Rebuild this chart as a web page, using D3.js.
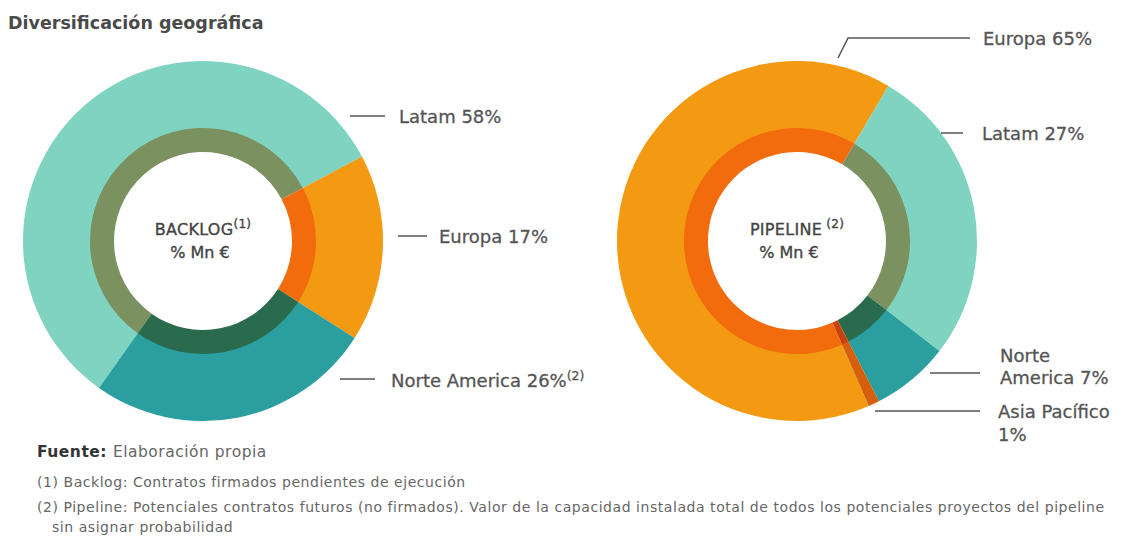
<!DOCTYPE html>
<html>
<head>
<meta charset="utf-8">
<script src="https://cdn.jsdelivr.net/npm/d3@7"></script>
<style>
  body { margin: 0; background: #fff; }
  svg text { font-family: "DejaVu Sans", sans-serif; }
</style>
</head>
<body>
<svg width="1125" height="540"></svg>
<script>
// data
var backlogRegions = ["Latam", "Europa", "Norte America"];
var backlogValues = [58, 17, 26];
var pipelineRegions = ["Europa", "Latam", "Norte America", "Asia Pacífico"];
var pipelineValues = [65, 27, 7, 1];

var outerColors = {
    "Latam": "#7fd4c1",
    "Europa": "#f39a12",
    "Norte America": "#2b9ea0",
    "Asia Pacífico": "#d65f0d"
};
var innerColors = {
    "Latam": "#7b9160",
    "Europa": "#f26b0c",
    "Norte America": "#2a6b4e",
    "Asia Pacífico": "#c8430a"
};

var svg = d3.select("svg");
var deg = Math.PI / 180;

svg.append("text")
    .attr("x", 8)
    .attr("y", 29)
    .attr("font-size", 17.5)
    .attr("font-weight", "bold")
    .attr("fill", "#4a4a4a")
    .text("Diversificación geográfica");

function drawDonut(cx, cy, regions, values, start) {
    var pie = d3.pie().sort(null).startAngle(start).endAngle(start + 2 * Math.PI);
    var arcs = pie(values);
    var g = svg.append("g").attr("transform", "translate(" + cx + "," + cy + ")");

    var outer = d3.arc().innerRadius(112).outerRadius(180);
    var inner = d3.arc().innerRadius(89).outerRadius(113);

    g.selectAll("path.outer")
        .data(arcs)
        .enter().append("path")
        .attr("class", "outer")
        .attr("d", outer)
        .attr("fill", function (d, i) {
            return outerColors[regions[i]];
        });

    g.selectAll("path.inner")
        .data(arcs)
        .enter().append("path")
        .attr("class", "inner")
        .attr("d", inner)
        .attr("fill", function (d, i) {
            return innerColors[regions[i]];
        });
    return g;
}

var left = drawDonut(203, 241, backlogRegions, backlogValues, -144.7 * deg);
var right = drawDonut(797, 241, pipelineRegions, pipelineValues, -203.5 * deg);

function centerLabel(g, title, note, dx2) {
    var t = g.append("text")
        .attr("text-anchor", "middle")
        .attr("y", -6)
        .attr("font-size", 16)
        .attr("letter-spacing", 0.3)
        .attr("fill", "#444")
        .attr("stroke", "#444")
        .attr("stroke-width", 0.35);
    t.append("tspan").text(title);
    t.append("tspan").attr("dy", -7).attr("font-size", 12).text(note);
    g.append("text")
        .attr("text-anchor", "middle")
        .attr("x", dx2)
        .attr("y", 17)
        .attr("font-size", 16)
        .attr("fill", "#444")
        .attr("stroke", "#444")
        .attr("stroke-width", 0.35)
        .text("% Mn €");
}
centerLabel(left, "BACKLOG", "(1)", -3);
centerLabel(right, "PIPELINE", " (2)", -8);

// leader lines and labels
var labelColor = "#555";
var callouts = [
    {pts: [[350, 116], [385, 116]], x: 399, lines: [["Latam 58%", 123]]},
    {pts: [[398, 236], [427, 236]], x: 439, lines: [["Europa 17%", 243]]},
    {pts: [[340, 379], [375, 379]], x: 391, lines: [["Norte America 26%", 387]], sup: "(2)"},
    {pts: [[838, 58], [848, 38], [970, 38]], x: 983, lines: [["Europa 65%", 45]]},
    {pts: [[941, 133], [963, 133]], x: 982, lines: [["Latam 27%", 140]]},
    {pts: [[930, 373], [980, 373]], x: 1000, lines: [["Norte", 362], ["America 7%", 384]]},
    {pts: [[875, 411], [980, 411]], x: 998, lines: [["Asia Pacífico", 418], ["1%", 441]]}
];

callouts.forEach(function (c) {
    svg.append("path")
        .attr("d", d3.line()(c.pts))
        .attr("fill", "none")
        .attr("stroke", "#555")
        .attr("stroke-width", 1.5);
    c.lines.forEach(function (l, i) {
        var t = svg.append("text")
            .attr("x", c.x)
            .attr("y", l[1])
            .attr("font-size", 18)
            .attr("fill", labelColor)
            .attr("stroke", labelColor)
            .attr("stroke-width", 0.3);
        t.append("tspan").text(l[0]);
        if (c.sup && i === c.lines.length - 1) {
            t.append("tspan").attr("dy", -7).attr("font-size", 12.5).text(c.sup);
        }
    });
});

// footnotes
var fuente = svg.append("text")
    .attr("x", 37)
    .attr("y", 457)
    .attr("font-size", 15.5)
    .attr("letter-spacing", 0.5)
    .attr("fill", "#666");
fuente.append("tspan").attr("fill", "#333").attr("font-weight", "bold").text("Fuente: ");
fuente.append("tspan").text("Elaboración propia");

var notes = [
    ["(1) Backlog: Contratos firmados pendientes de ejecución", 37, 487],
    ["(2) Pipeline: Potenciales contratos futuros (no firmados). Valor de la capacidad instalada total de todos los potenciales proyectos del pipeline", 37, 512],
    ["sin asignar probabilidad", 52, 532]
];
svg.selectAll("text.note")
    .data(notes)
    .enter().append("text")
    .attr("class", "note")
    .attr("x", function (d) { return d[1]; })
    .attr("y", function (d) { return d[2]; })
    .attr("font-size", 14)
    .attr("letter-spacing", 0.55)
    .attr("fill", "#666")
    .text(function (d) { return d[0]; });
</script>
</body>
</html>
